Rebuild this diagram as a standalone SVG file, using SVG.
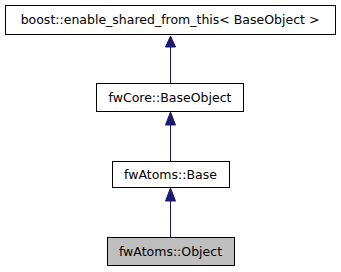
<svg xmlns="http://www.w3.org/2000/svg" width="341" height="272" viewBox="0 0 341 272">
<style>
.box{fill:#fff;stroke:#000;stroke-width:1}
.cur{fill:#bfbfbf;stroke:#000;stroke-width:1}
.lbl{font-family:"DejaVu Sans",sans-serif;font-size:12.5px;text-anchor:middle;fill:#000}
.edge{stroke:#191970;stroke-width:1;fill:none}
.head{fill:#191970;stroke:#191970}
</style>
<rect width="341" height="272" fill="#fff"/>
<g id="connectors">
<path class="edge" d="M170.5,83V47"/>
<polygon class="head" points="170.5,36 165.5,47 175.5,47"/>
<path class="edge" d="M170.5,161V125"/>
<polygon class="head" points="170.5,112 165.5,125 175.5,125"/>
<path class="edge" d="M170.5,237V201"/>
<polygon class="head" points="170.5,188 165.5,201 175.5,201"/>
</g>
<g id="node_enable_shared">
<rect class="box" x="5.5" y="5.5" width="330" height="29"/>
<text class="lbl" x="170" y="24">boost::enable_shared_from_this&lt; BaseObject &gt;</text>
</g>
<g id="node_BaseObject">
<rect class="box" x="96.5" y="83.5" width="147" height="28"/>
<text class="lbl" x="170" y="102">fwCore::BaseObject</text>
</g>
<g id="node_Base">
<rect class="box" x="112.5" y="161.5" width="117" height="26"/>
<text class="lbl" x="170.5" y="179">fwAtoms::Base</text>
</g>
<g id="node_Object">
<rect class="cur" x="107.5" y="237.5" width="127" height="28"/>
<text class="lbl" x="170.5" y="256">fwAtoms::Object</text>
</g>
</svg>
